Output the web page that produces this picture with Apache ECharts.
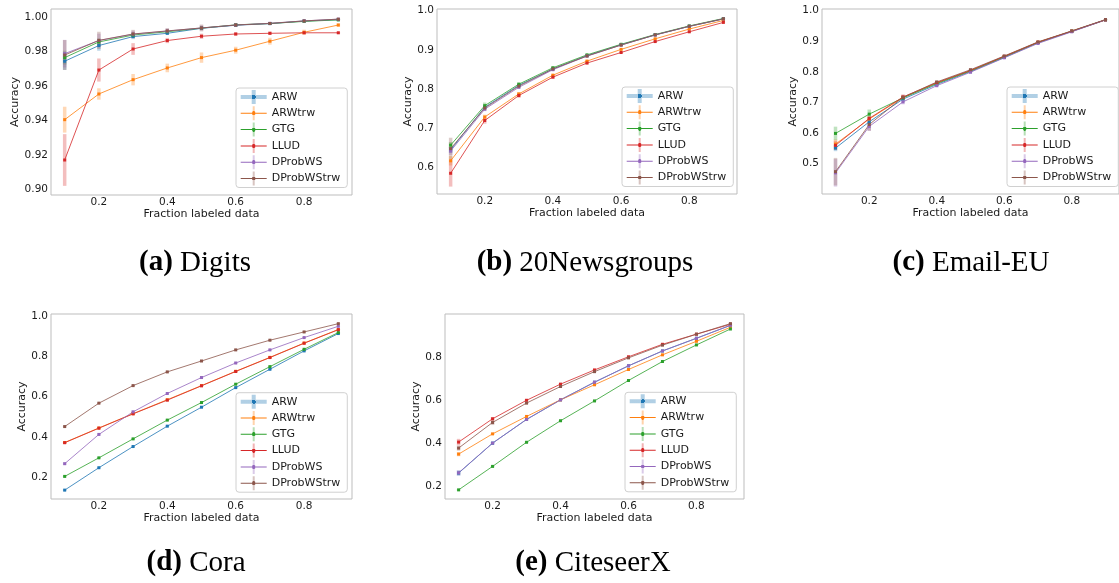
<!DOCTYPE html>
<html><head><meta charset="utf-8">
<script src="https://cdn.jsdelivr.net/npm/echarts@6/dist/echarts.min.js"></script>
<style>html,body{margin:0;padding:0;background:#fff}#c{width:1119px;height:583px}</style>
</head><body><div id="c"></div>
<script>
// ---------------- data ----------------
const fractions = [0.1, 0.2, 0.3, 0.4, 0.5, 0.6, 0.7, 0.8, 0.9];
const methods = ['ARW', 'ARWtrw', 'GTG', 'LLUD', 'DProbWS', 'DProbWStrw'];
const xTicks = [0.2, 0.4, 0.6, 0.8];

// (a) Digits
const digitsARW        = [0.9745, 0.9836, 0.9888, 0.9907, 0.9936, 0.9954, 0.9963, 0.9978, 0.9986];
const digitsARWtrw     = [0.9406, 0.9555, 0.9638, 0.9706, 0.9766, 0.9809, 0.9861, 0.9913, 0.9955];
const digitsGTG        = [0.9766, 0.9857, 0.9897, 0.9916, 0.9937, 0.9956, 0.9964, 0.9976, 0.9985];
const digitsLLUD       = [0.9172, 0.9694, 0.9816, 0.9865, 0.9890, 0.9903, 0.9907, 0.9910, 0.9910];
const digitsDProbWS    = [0.9789, 0.9865, 0.9902, 0.9920, 0.9938, 0.9955, 0.9965, 0.9979, 0.9989];
const digitsDProbWStrw = [0.9781, 0.9866, 0.9903, 0.9921, 0.9938, 0.9955, 0.9964, 0.9979, 0.9989];
const digitsErrARW        = [0.005, 0.003, 0.0015, 0.001, 0.001, 0.0008, 0.0006, 0.0005, 0.0004];
const digitsErrARWtrw     = [0.0075, 0.0033, 0.0033, 0.0025, 0.003, 0.002, 0.002, 0.0015, 0.001];
const digitsErrGTG        = [0.004, 0.002, 0.0015, 0.001, 0.001, 0.0008, 0.0006, 0.0005, 0.0004];
const digitsErrLLUD       = [0.015, 0.0067, 0.0034, 0.0015, 0.0015, 0.001, 0.001, 0.0008, 0.0006];
const digitsErrDProbWS    = [0.008, 0.004, 0.002, 0.0015, 0.0015, 0.001, 0.0008, 0.0006, 0.0005];
const digitsErrDProbWStrw = [0.0087, 0.005, 0.0024, 0.0015, 0.002, 0.001, 0.0008, 0.0006, 0.0005];
const digitsYTicks = [0.90, 0.92, 0.94, 0.96, 0.98, 1.00];

// (b) 20Newsgroups
const newsARW        = [0.644, 0.753, 0.809, 0.851, 0.885, 0.913, 0.938, 0.960, 0.979];
const newsARWtrw     = [0.616, 0.728, 0.787, 0.835, 0.871, 0.901, 0.928, 0.953, 0.975];
const newsGTG        = [0.656, 0.757, 0.812, 0.854, 0.887, 0.914, 0.939, 0.961, 0.980];
const newsLLUD       = [0.584, 0.719, 0.783, 0.830, 0.866, 0.893, 0.921, 0.946, 0.970];
const newsDProbWS    = [0.641, 0.748, 0.804, 0.849, 0.884, 0.912, 0.938, 0.960, 0.979];
const newsDProbWStrw = [0.647, 0.751, 0.807, 0.851, 0.884, 0.912, 0.938, 0.960, 0.979];
const newsErrARW        = [0.008, 0.004, 0.003, 0.002, 0.002, 0.002, 0.001, 0.001, 0.001];
const newsErrARWtrw     = [0.012, 0.006, 0.005, 0.003, 0.003, 0.002, 0.002, 0.002, 0.001];
const newsErrGTG        = [0.008, 0.008, 0.004, 0.003, 0.002, 0.002, 0.001, 0.001, 0.001];
const newsErrLLUD       = [0.034, 0.008, 0.006, 0.004, 0.003, 0.002, 0.002, 0.002, 0.001];
const newsErrDProbWS    = [0.010, 0.005, 0.004, 0.003, 0.002, 0.002, 0.001, 0.001, 0.001];
const newsErrDProbWStrw = [0.028, 0.006, 0.004, 0.003, 0.002, 0.002, 0.001, 0.001, 0.001];
const newsYTicks = [0.6, 0.7, 0.8, 0.9, 1.0];

// (c) Email-EU
const emailARW        = [0.551, 0.637, 0.711, 0.759, 0.801, 0.847, 0.895, 0.932, 0.970];
const emailARWtrw     = [0.564, 0.646, 0.716, 0.764, 0.804, 0.850, 0.897, 0.933, 0.970];
const emailGTG        = [0.599, 0.662, 0.715, 0.762, 0.803, 0.849, 0.896, 0.933, 0.970];
const emailLLUD       = [0.560, 0.648, 0.718, 0.765, 0.805, 0.851, 0.897, 0.933, 0.970];
const emailDProbWS    = [0.470, 0.622, 0.702, 0.755, 0.799, 0.846, 0.893, 0.931, 0.970];
const emailDProbWStrw = [0.474, 0.628, 0.717, 0.767, 0.807, 0.852, 0.898, 0.934, 0.971];
const emailErrARW        = [0.010, 0.008, 0.005, 0.004, 0.003, 0.003, 0.002, 0.002, 0.001];
const emailErrARWtrw     = [0.015, 0.008, 0.005, 0.004, 0.003, 0.003, 0.002, 0.002, 0.001];
const emailErrGTG        = [0.022, 0.015, 0.006, 0.004, 0.003, 0.003, 0.002, 0.002, 0.001];
const emailErrLLUD       = [0.015, 0.008, 0.008, 0.005, 0.003, 0.003, 0.002, 0.002, 0.001];
const emailErrDProbWS    = [0.045, 0.015, 0.008, 0.005, 0.004, 0.003, 0.002, 0.002, 0.001];
const emailErrDProbWStrw = [0.045, 0.020, 0.008, 0.005, 0.004, 0.003, 0.002, 0.002, 0.001];
const emailYTicks = [0.5, 0.6, 0.7, 0.8, 0.9, 1.0];

// (d) Cora
const coraARW        = [0.137, 0.248, 0.353, 0.454, 0.548, 0.645, 0.736, 0.827, 0.913];
const coraARWtrw     = [0.373, 0.445, 0.516, 0.585, 0.655, 0.726, 0.795, 0.866, 0.933];
const coraGTG        = [0.205, 0.297, 0.391, 0.484, 0.571, 0.662, 0.749, 0.835, 0.918];
const coraLLUD       = [0.372, 0.444, 0.515, 0.583, 0.654, 0.725, 0.794, 0.865, 0.932];
const coraDProbWS    = [0.268, 0.413, 0.525, 0.616, 0.695, 0.767, 0.832, 0.893, 0.949];
const coraDProbWStrw = [0.452, 0.568, 0.655, 0.723, 0.777, 0.832, 0.880, 0.921, 0.962];
const coraErrARW        = [0.004, 0.004, 0.004, 0.004, 0.004, 0.004, 0.004, 0.003, 0.003];
const coraErrARWtrw     = [0.004, 0.004, 0.004, 0.004, 0.004, 0.004, 0.003, 0.003, 0.003];
const coraErrGTG        = [0.004, 0.004, 0.004, 0.004, 0.004, 0.004, 0.004, 0.003, 0.003];
const coraErrLLUD       = [0.004, 0.004, 0.004, 0.004, 0.004, 0.004, 0.003, 0.003, 0.003];
const coraErrDProbWS    = [0.006, 0.005, 0.005, 0.004, 0.004, 0.004, 0.003, 0.003, 0.003];
const coraErrDProbWStrw = [0.004, 0.004, 0.004, 0.004, 0.004, 0.003, 0.003, 0.003, 0.003];
const coraYTicks = [0.2, 0.4, 0.6, 0.8, 1.0];

// (e) CiteseerX
const citeARW        = [0.262, 0.401, 0.511, 0.602, 0.684, 0.760, 0.829, 0.888, 0.948];
const citeARWtrw     = [0.350, 0.444, 0.525, 0.602, 0.672, 0.743, 0.811, 0.874, 0.939];
const citeGTG        = [0.184, 0.293, 0.405, 0.505, 0.597, 0.692, 0.780, 0.857, 0.931];
const citeLLUD       = [0.406, 0.514, 0.600, 0.675, 0.741, 0.802, 0.860, 0.907, 0.953];
const citeDProbWS    = [0.263, 0.401, 0.511, 0.602, 0.684, 0.760, 0.829, 0.888, 0.948];
const citeDProbWStrw = [0.378, 0.497, 0.587, 0.664, 0.733, 0.797, 0.856, 0.907, 0.956];
const citeErrARW        = [0.012, 0.006, 0.004, 0.003, 0.003, 0.003, 0.002, 0.002, 0.002];
const citeErrARWtrw     = [0.010, 0.005, 0.004, 0.003, 0.003, 0.003, 0.002, 0.002, 0.002];
const citeErrGTG        = [0.004, 0.004, 0.004, 0.003, 0.003, 0.003, 0.002, 0.002, 0.002];
const citeErrLLUD       = [0.015, 0.008, 0.006, 0.004, 0.004, 0.003, 0.003, 0.002, 0.002];
const citeErrDProbWS    = [0.012, 0.006, 0.004, 0.003, 0.003, 0.003, 0.002, 0.002, 0.002];
const citeErrDProbWStrw = [0.012, 0.012, 0.006, 0.004, 0.004, 0.003, 0.003, 0.002, 0.002];
const citeYTicks = [0.2, 0.4, 0.6, 0.8];

// ---------------- styles / layout ----------------
const COLORS = ['#1f77b4', '#ff7f0e', '#2ca02c', '#d62728', '#9467bd', '#8c564b'];
function rgba(hex, a) {
  const n = parseInt(hex.slice(1), 16);
  return 'rgba(' + (n >> 16 & 255) + ',' + (n >> 8 & 255) + ',' + (n & 255) + ',' + a + ')';
}
const panels = [
  { caption: ['(a)', 'Digits'], capPos: [195, 263],
    values: [digitsARW, digitsARWtrw, digitsGTG, digitsLLUD, digitsDProbWS, digitsDProbWStrw],
    errors: [digitsErrARW, digitsErrARWtrw, digitsErrGTG, digitsErrLLUD, digitsErrDProbWS, digitsErrDProbWStrw],
    yTicks: digitsYTicks, dec: 2, grid: [51, 9, 301, 186], yRange: [0.8969, 1.0048], yGap: 25.5, legend: [236, 88] },
  { caption: ['(b)', '20Newsgroups'], capPos: [585, 263],
    values: [newsARW, newsARWtrw, newsGTG, newsLLUD, newsDProbWS, newsDProbWStrw],
    errors: [newsErrARW, newsErrARWtrw, newsErrGTG, newsErrLLUD, newsErrDProbWS, newsErrDProbWStrw],
    yTicks: newsYTicks, dec: 1, grid: [437, 9, 300, 185], yRange: [0.531, 1.0043], yGap: 18.5, legend: [622, 87] },
  { caption: ['(c)', 'Email-EU'], capPos: [971, 263],
    values: [emailARW, emailARWtrw, emailGTG, emailLLUD, emailDProbWS, emailDProbWStrw],
    errors: [emailErrARW, emailErrARWtrw, emailErrGTG, emailErrLLUD, emailErrDProbWS, emailErrDProbWStrw],
    yTicks: emailYTicks, dec: 1, grid: [822, 9, 300, 185], yRange: [0.401, 1.0055], yGap: 18.5, legend: [1007, 87] },
  { caption: ['(d)', 'Cora'], capPos: [196, 563],
    values: [coraARW, coraARWtrw, coraGTG, coraLLUD, coraDProbWS, coraDProbWStrw],
    errors: [coraErrARW, coraErrARWtrw, coraErrGTG, coraErrLLUD, coraErrDProbWS, coraErrDProbWStrw],
    yTicks: coraYTicks, dec: 1, grid: [51, 314, 301, 185], yRange: [0.093, 1.0099], yGap: 17.5, legend: [236, 392.7] },
  { caption: ['(e)', 'CiteseerX'], capPos: [593, 563],
    values: [citeARW, citeARWtrw, citeGTG, citeLLUD, citeDProbWS, citeDProbWStrw],
    errors: [citeErrARW, citeErrARWtrw, citeErrGTG, citeErrLLUD, citeErrDProbWS, citeErrDProbWStrw],
    yTicks: citeYTicks, dec: 1, grid: [445, 314, 299, 185], yRange: [0.1416, 1.0007], yGap: 17, legend: [625, 392.3] }
];

const FONT = 'DejaVu Sans';
const TXT = '#1a1a1a';
const ICON = 'path://M0 6.5L26 6.5L26 7.5L0 7.5Z M11.5 5.5L14.5 5.5L14.5 8.5L11.5 8.5Z M12 0L14 0L14 14L12 14Z';
const ICON_ARW = 'path://M0 5L26 5L26 9L0 9Z M11 0L15 0L15 14L11 14Z';

function legendColor(k) {
  const c = COLORS[k], p = rgba(c, 0.35);
  if (k === 0) {
    return { type: 'radial', x: 0.5, y: 0.5, r: 0.5, colorStops: [
      { offset: 0, color: c }, { offset: 0.28, color: c }, { offset: 0.3, color: p }, { offset: 1, color: p }] };
  }
  return { type: 'linear', x: 0, y: 0, x2: 0, y2: 1, colorStops: [
    { offset: 0, color: p }, { offset: 0.36, color: p }, { offset: 0.36, color: c },
    { offset: 0.64, color: c }, { offset: 0.64, color: p }, { offset: 1, color: p }] };
}

const grid = [], xAxis = [], yAxis = [], legend = [], series = [], graphic = [];
panels.forEach((p, i) => {
  grid.push({ left: p.grid[0], top: p.grid[1], width: p.grid[2], height: p.grid[3],
    show: true, borderColor: '#bdbdbd', borderWidth: 1, backgroundColor: 'transparent' });
  xAxis.push({ type: 'value', gridIndex: i, min: 0.06, max: 0.94,
    name: 'Fraction labeled data', nameLocation: 'middle', nameGap: 12,
    nameTextStyle: { fontFamily: FONT, fontSize: 11, color: TXT },
    axisLine: { show: false }, axisTick: { show: false }, splitLine: { show: false },
    axisLabel: { customValues: xTicks, margin: 2, fontFamily: FONT, fontSize: 10.5, color: TXT,
      formatter: v => v.toFixed(1) } });
  yAxis.push({ type: 'value', gridIndex: i, min: p.yRange[0], max: p.yRange[1],
    name: 'Accuracy', nameLocation: 'middle', nameGap: p.yGap,
    nameTextStyle: { fontFamily: FONT, fontSize: 11, color: TXT },
    axisLine: { show: false }, axisTick: { show: false }, splitLine: { show: false },
    axisLabel: { customValues: p.yTicks, margin: 3, fontFamily: FONT, fontSize: 10.5, color: TXT,
      formatter: v => v.toFixed(p.dec) } });
  legend.push({ orient: 'vertical', left: p.legend[0], top: p.legend[1],
    padding: [2, 7, 2, 4.7], itemWidth: 26, itemHeight: 14, itemGap: 2.3,
    borderColor: '#d0d0d0', borderWidth: 1, borderRadius: 3, backgroundColor: 'rgba(255,255,255,0.8)',
    selectedMode: false,
    textStyle: { fontFamily: FONT, fontSize: 11, color: TXT, lineHeight: 14 },
    data: methods.map((m, k) => ({ name: m, icon: k === 0 ? ICON_ARW : ICON,
      itemStyle: { color: legendColor(k), borderWidth: 0 } })) });
  methods.forEach((m, k) => {
    const vals = p.values[k], errs = p.errors[k], col = COLORS[k];
    series.push({ type: 'custom', name: m, xAxisIndex: i, yAxisIndex: i, silent: true,
      encode: { x: 0, y: 1 },
      data: fractions.map((f, j) => [f, vals[j], errs[j]]),
      renderItem: (params, api) => {
        const x = api.value(0), y = api.value(1), e = api.value(2);
        const a = api.coord([x, y - e]), b = api.coord([x, y + e]);
        return { type: 'line', shape: { x1: a[0], y1: a[1], x2: b[0], y2: b[1] },
          style: { stroke: rgba(col, 0.3), lineWidth: 3.5 } };
      } });
    series.push({ type: 'line', name: m, xAxisIndex: i, yAxisIndex: i,
      data: fractions.map((f, j) => [f, vals[j]]),
      symbol: 'rect', symbolSize: 3, showSymbol: true, color: col,
      lineStyle: { width: 1, color: rgba(col, 0.8) }, itemStyle: { color: col } });
  });
  graphic.push({ type: 'text', x: p.capPos[0], y: p.capPos[1],
    style: { text: '{b|' + p.caption[0] + '} ' + p.caption[1], fontFamily: 'Liberation Serif', fontSize: 29,
      fill: '#000', align: 'center', verticalAlign: 'middle',
      rich: { b: { fontFamily: 'Liberation Serif', fontSize: 29, fontWeight: 'bold', fill: '#000' } } } });
});

const chart = echarts.init(document.getElementById('c'), null, { renderer: 'canvas' });
chart.setOption({ animation: false, backgroundColor: '#fff', grid, xAxis, yAxis, legend, series, graphic });
</script>
</body></html>
